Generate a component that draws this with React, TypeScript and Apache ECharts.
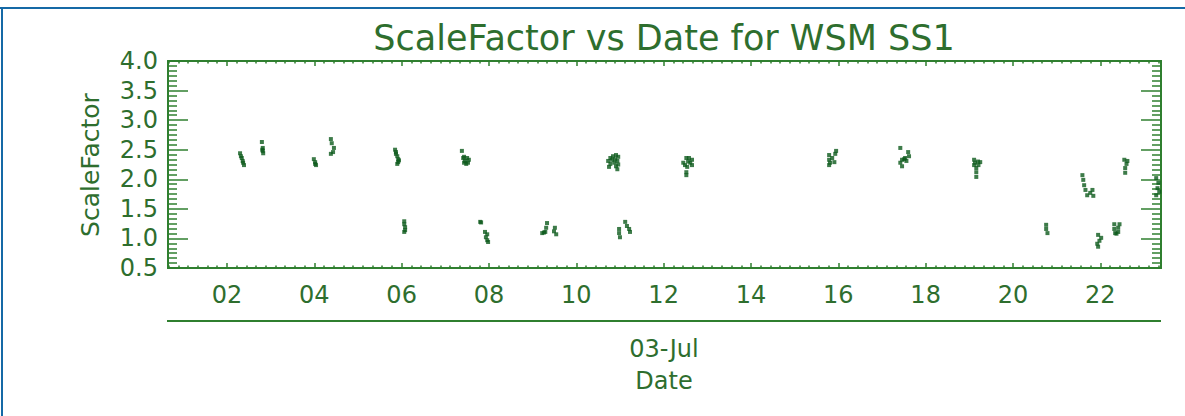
import React, { useEffect, useRef } from "react";
import * as echarts from "echarts";

// ---- data (hour of day on 03-Jul, ScaleFactor) ----
const pass0218: number[][] = [[2.30, 2.44], [2.32, 2.39], [2.34, 2.36], [2.36, 2.31], [2.37, 2.28], [2.39, 2.24]];
const pass0248: number[][] = [[2.80, 2.63], [2.82, 2.53], [2.82, 2.48], [2.83, 2.44], [2.81, 2.50]];
const pass0400: number[][] = [[3.99, 2.34], [4.02, 2.29], [4.02, 2.26], [4.04, 2.24]];
const pass0424: number[][] = [[4.38, 2.68], [4.40, 2.61], [4.45, 2.53], [4.43, 2.46], [4.38, 2.43]];
const pass0552: number[][] = [[5.85, 2.50], [5.87, 2.46], [5.87, 2.43], [5.90, 2.39], [5.92, 2.34], [5.94, 2.32], [5.92, 2.29], [5.90, 2.26]];
const pass0604: number[][] = [[6.06, 1.29], [6.06, 1.24], [6.08, 1.19], [6.08, 1.14], [6.06, 1.11]];
const pass0727: number[][] = [[7.38, 2.48], [7.43, 2.38], [7.41, 2.36], [7.50, 2.36], [7.54, 2.33], [7.45, 2.31], [7.52, 2.28], [7.43, 2.28], [7.48, 2.26]];
const pass0750: number[][] = [[7.80, 1.28], [7.82, 1.27], [7.91, 1.11], [7.96, 1.07], [7.93, 1.02], [7.96, 0.97], [7.98, 0.94]];
const pass0918: number[][] = [[9.33, 1.26], [9.31, 1.18], [9.29, 1.11], [9.22, 1.09], [9.26, 1.10], [9.51, 1.18], [9.49, 1.12], [9.54, 1.07]];
const pass1050: number[][] = [
  [10.73, 2.31], [10.78, 2.36], [10.84, 2.39], [10.91, 2.41], [10.96, 2.38], [10.94, 2.31], [10.87, 2.28],
  [10.78, 2.26], [10.75, 2.21], [10.91, 2.22], [10.94, 2.17], [10.82, 2.33], [10.89, 2.34], [10.96, 2.25],
];
const pass1100: number[][] = [[10.98, 1.16], [10.98, 1.09], [11.00, 1.02], [11.12, 1.28], [11.16, 1.21], [11.21, 1.16], [11.23, 1.11]];
const pass1232: number[][] = [
  [12.45, 2.28], [12.52, 2.36], [12.58, 2.36], [12.65, 2.33], [12.61, 2.28], [12.49, 2.24],
  [12.54, 2.21], [12.52, 2.12], [12.52, 2.07], [12.65, 2.24], [12.56, 2.30],
];
const pass1552: number[][] = [[15.79, 2.41], [15.79, 2.33], [15.79, 2.24], [15.86, 2.36], [15.93, 2.43], [15.95, 2.48], [15.91, 2.29], [15.81, 2.28]];
const pass1730: number[][] = [[17.42, 2.53], [17.60, 2.46], [17.62, 2.39], [17.53, 2.36], [17.46, 2.33], [17.42, 2.28], [17.46, 2.22], [17.56, 2.31], [17.51, 2.34]];
const pass1910: number[][] = [[19.11, 2.33], [19.11, 2.24], [19.25, 2.29], [19.21, 2.24], [19.16, 2.19], [19.16, 2.12], [19.16, 2.04], [19.20, 2.30], [19.13, 2.28]];
const pass2046: number[][] = [[20.76, 1.23], [20.76, 1.16], [20.79, 1.09]];
const pass2138: number[][] = [[21.59, 2.07], [21.61, 1.99], [21.63, 1.90], [21.66, 1.82], [21.70, 1.73], [21.77, 1.77], [21.82, 1.82], [21.84, 1.72]];
const pass2158: number[][] = [[21.95, 1.06], [22.02, 1.01], [21.98, 0.96], [21.93, 0.91], [21.95, 0.86]];
const pass2222: number[][] = [[22.32, 1.24], [22.32, 1.16], [22.34, 1.09], [22.41, 1.11], [22.41, 1.18], [22.44, 1.24], [22.37, 1.08]];
const pass2234: number[][] = [[22.55, 2.33], [22.62, 2.31], [22.60, 2.26], [22.57, 2.19], [22.57, 2.11]];
const pass2318: number[][] = [[23.28, 2.02], [23.33, 1.94], [23.31, 1.85], [23.35, 1.79], [23.28, 1.73]];

const allPasses = [
  pass0218, pass0248, pass0400, pass0424, pass0552, pass0604, pass0727, pass0750, pass0918, pass1050, pass1100,
  pass1232, pass1552, pass1730, pass1910, pass2046, pass2138, pass2158, pass2222, pass2234, pass2318,
];

const X_MIN = 0.65;
const X_MAX = 23.39;
const Y_MIN = 0.5;
const Y_MAX = 4.0;
const hourTicks = [2, 4, 6, 8, 10, 12, 14, 16, 18, 20, 22];
const titleText = "ScaleFactor vs Date for WSM SS1";
const yName = "ScaleFactor";
const dateLabel = "03-Jul";
const xName = "Date";

const AXIS = "#2f7f2f";
const TEXT = "#2e6e2e";
const DOT = "#0d5a1c";
const FONT = "DejaVu Sans";

const minorHourTicks: number[] = [];
for (let n = Math.ceil(X_MIN * 4.5); n <= Math.floor(X_MAX * 4.5); n++) {
  if (n % 9 !== 0) minorHourTicks.push(+(n * 2 / 9).toFixed(4));
}

export default function App() {
  const ref = useRef<HTMLDivElement>(null);
  useEffect(() => {
    if (!ref.current) return;
    const chart = echarts.init(ref.current, null, { renderer: "svg" });
    const xBase = (position: string, ticks: number[], len: number, labels: boolean) => ({
      type: "value",
      position,
      min: X_MIN,
      max: X_MAX,
      axisLine: { show: true, onZero: false, lineStyle: { color: AXIS, width: 2 } },
      axisTick: { show: true, inside: true, length: len, customValues: ticks, lineStyle: { color: AXIS, width: 1.5 } },
      axisLabel: labels
        ? {
            show: true,
            customValues: ticks,
            margin: 15,
            color: TEXT,
            fontSize: 24,
            fontFamily: FONT,
            formatter: (v: number) => String(Math.round(v)).padStart(2, "0"),
          }
        : { show: false },
      splitLine: { show: false },
    });
    const yBase = (position: string, labels: boolean) => ({
      type: "value",
      position,
      min: Y_MIN,
      max: Y_MAX,
      interval: 0.5,
      axisLine: { show: true, onZero: false, lineStyle: { color: AXIS, width: 2 } },
      axisTick: { show: true, inside: true, length: 20, lineStyle: { color: AXIS, width: 1.5 } },
      minorTick: { show: true, splitNumber: 6, length: 9, lineStyle: { color: AXIS, width: 1.5 } },
      axisLabel: labels
        ? { show: true, margin: 10, color: TEXT, fontSize: 24, fontFamily: FONT, formatter: (v: number) => v.toFixed(1) }
        : { show: false },
      splitLine: { show: false },
      minorSplitLine: { show: false },
    });
    chart.setOption({
      animation: false,
      backgroundColor: "#ffffff",
      grid: { left: 168, top: 61, width: 993, height: 207, containLabel: false },
      xAxis: [
        xBase("bottom", hourTicks, 5, true),
        xBase("bottom", minorHourTicks, 2.5, false),
        xBase("top", hourTicks, 5, false),
        xBase("top", minorHourTicks, 2.5, false),
      ],
      yAxis: [yBase("left", true), yBase("right", false)],
      series: [
        {
          type: "scatter",
          xAxisIndex: 0,
          yAxisIndex: 0,
          symbol: "rect",
          symbolSize: 4,
          itemStyle: { color: DOT },
          data: allPasses.flat(),
        },
      ],
      graphic: [
        { type: "line", shape: { x1: 0, y1: 8, x2: 1185, y2: 8 }, style: { stroke: "#1569a6", lineWidth: 2 } },
        { type: "line", shape: { x1: 2, y1: 7, x2: 2, y2: 416 }, style: { stroke: "#1569a6", lineWidth: 2 } },
        {
          type: "text",
          x: 664,
          y: 38,
          style: { text: titleText, fill: TEXT, fontSize: 35, fontFamily: FONT, align: "center", verticalAlign: "middle" },
        },
        {
          type: "text",
          x: 90,
          y: 165,
          rotation: Math.PI / 2,
          style: { text: yName, fill: TEXT, fontSize: 25, fontFamily: FONT, align: "center", verticalAlign: "middle" },
        },
        { type: "line", shape: { x1: 167, y1: 321, x2: 1161, y2: 321 }, style: { stroke: AXIS, lineWidth: 2 } },
        {
          type: "text",
          x: 664,
          y: 349,
          style: { text: dateLabel, fill: TEXT, fontSize: 24, fontFamily: FONT, align: "center", verticalAlign: "middle" },
        },
        {
          type: "text",
          x: 664,
          y: 381,
          style: { text: xName, fill: TEXT, fontSize: 24, fontFamily: FONT, align: "center", verticalAlign: "middle" },
        },
      ],
    });
    return () => chart.dispose();
  }, []);
  return <div ref={ref} style={{ position: "absolute", left: 0, top: 0, width: 1185, height: 416 }} />;
}
